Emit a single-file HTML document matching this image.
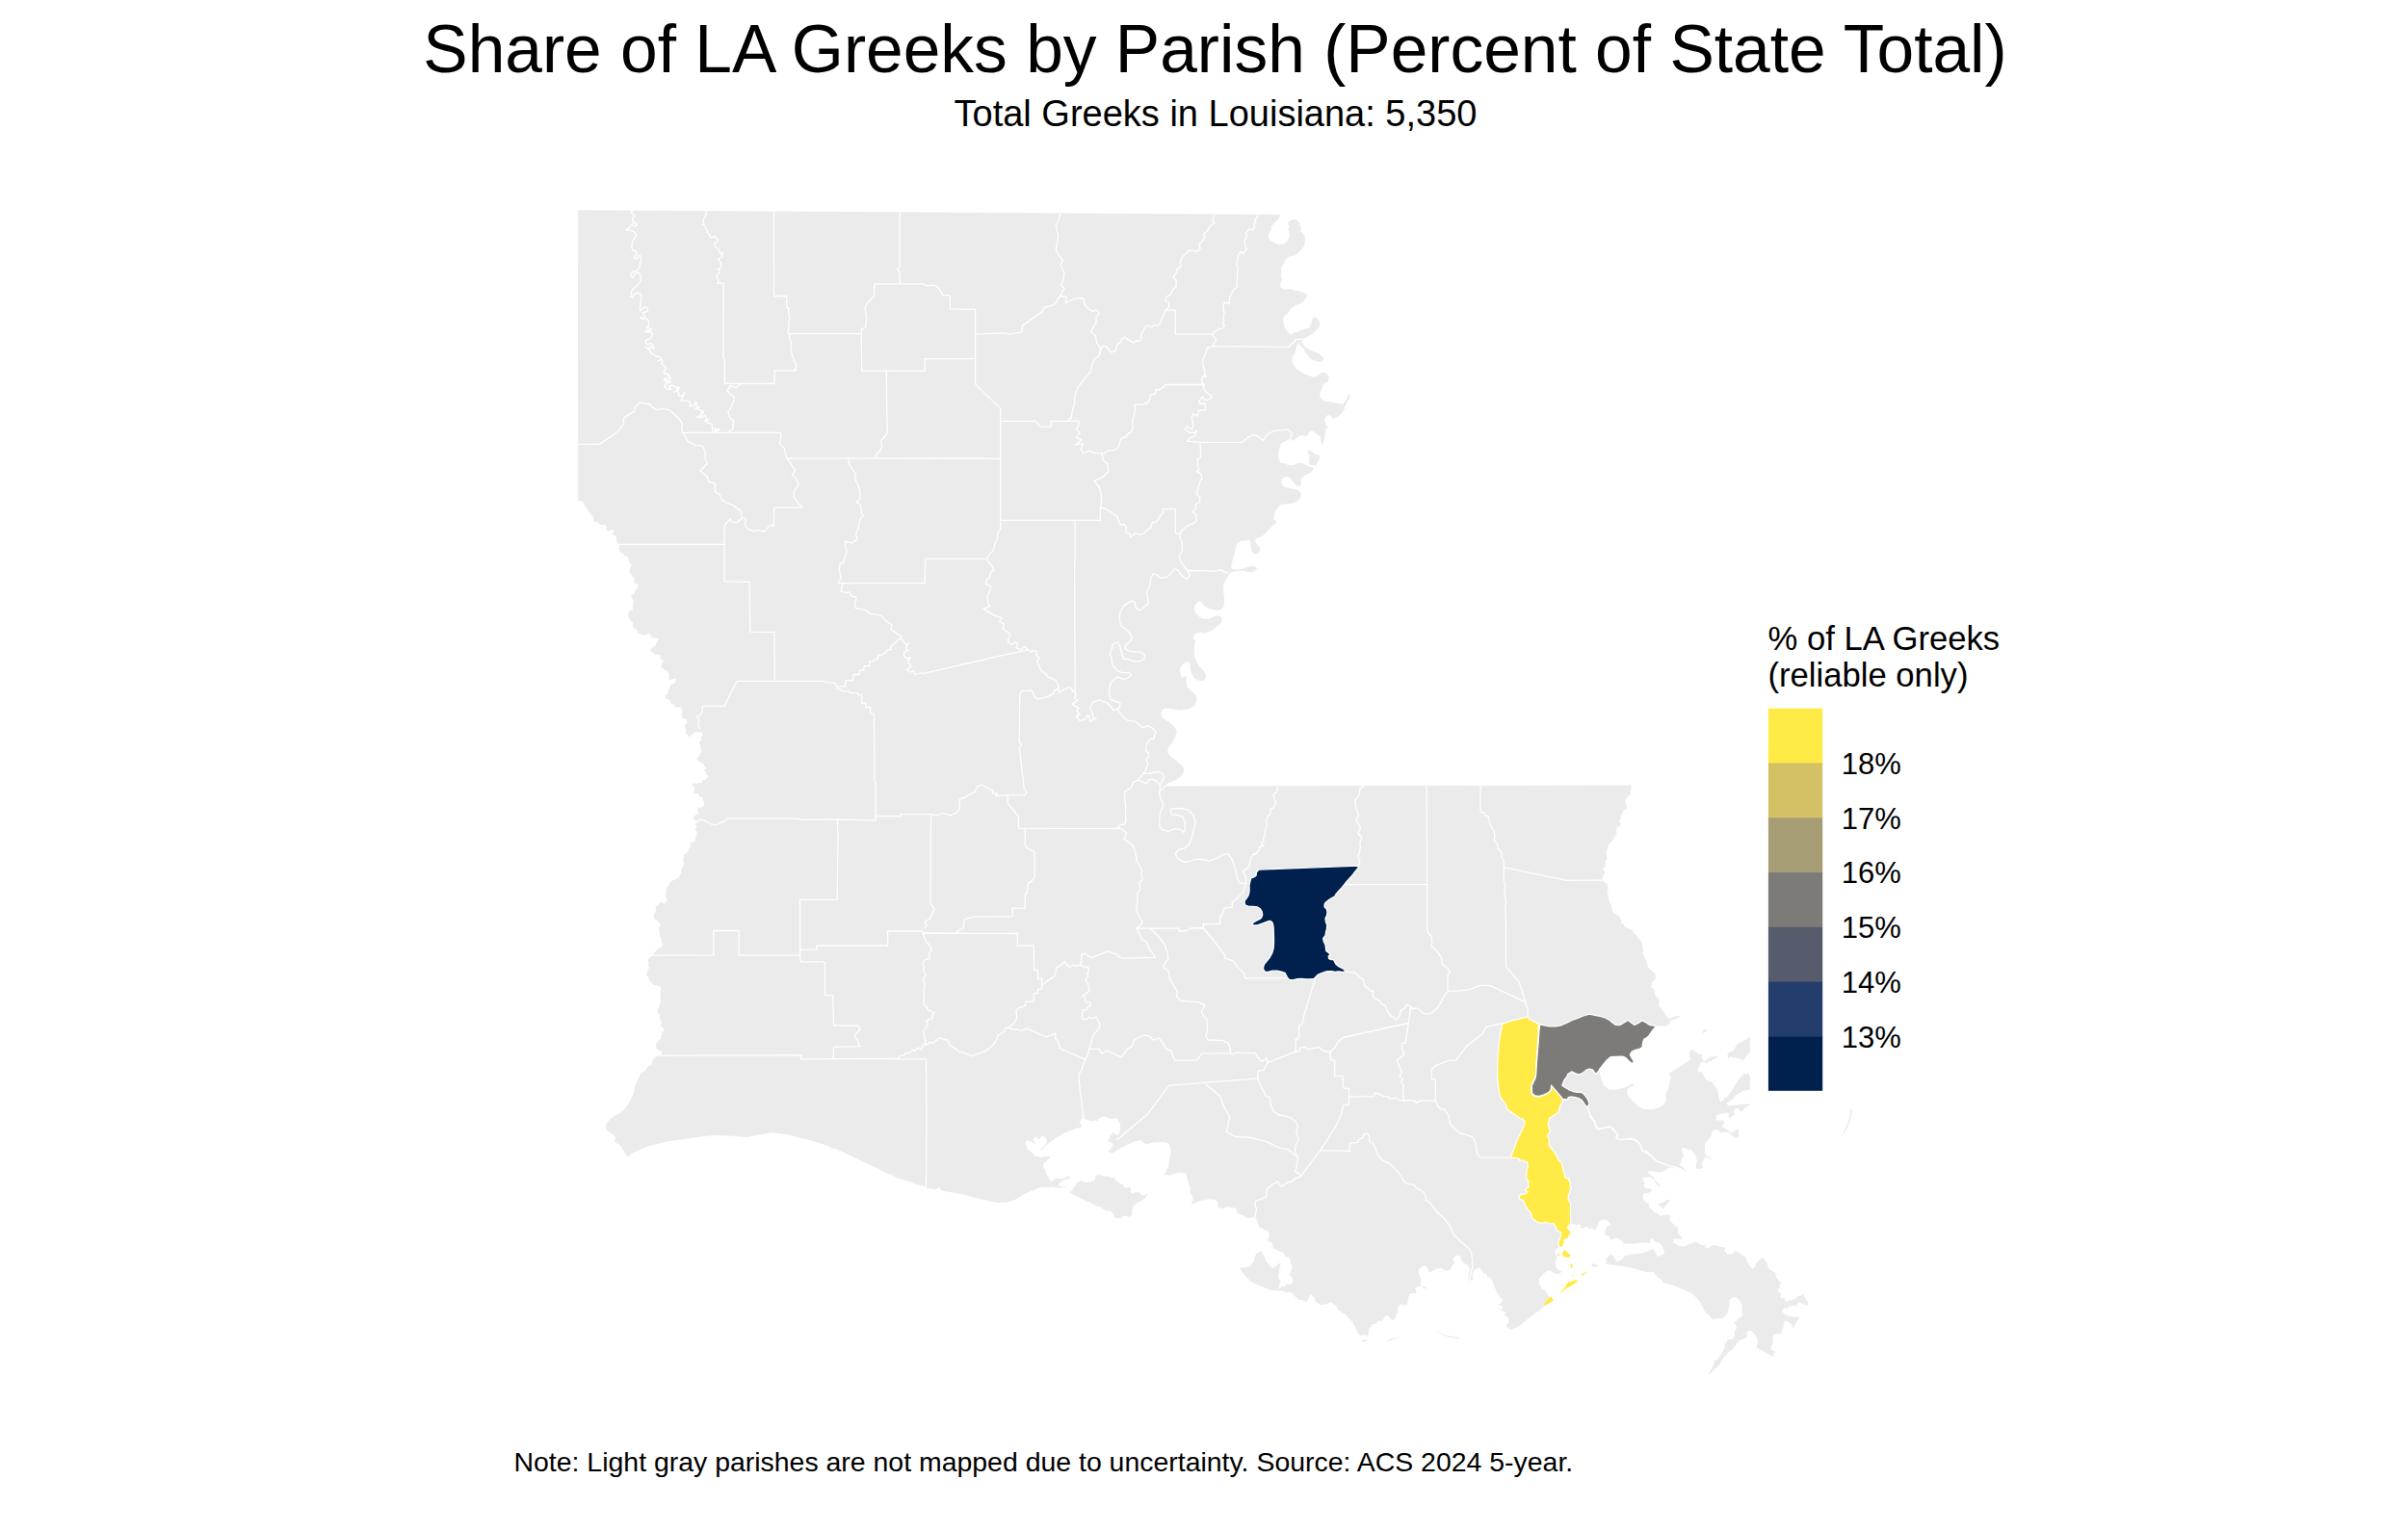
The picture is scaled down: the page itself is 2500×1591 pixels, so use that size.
<!DOCTYPE html>
<html lang="en"><head><meta charset="utf-8"><title>Share of LA Greeks by Parish</title>
<style>html,body{margin:0;padding:0;background:#fff}svg{display:block}</style></head>
<body><svg width="2500" height="1591" viewBox="0 0 2500 1591">
<rect width="2500" height="1591" fill="#fff"/>
<path d="M599.9 218.2L1328.9 222.8L1328.4 225.6L1326.8 228.1L1323.9 230.6L1321.8 233.1L1319.9 235.6L1320.3 238.1L1318.1 241.2L1316.8 244.3L1317.4 247.4L1319.9 250.5L1323.7 252.6L1328 253.9L1332.4 253.4L1335.5 251.1L1338 248L1338.9 244.9L1338.4 241.2L1337.4 238.1L1338.9 234.9L1337.1 232.4L1338 230L1340.5 228.5L1344.2 227.5L1346.7 228.5L1348.6 230.9L1350.1 234.3L1350.8 236.8L1349.9 239.7L1351.7 241.8L1353.6 243.7L1354.8 246.8L1354.6 249.9L1354.8 253L1353.6 256.1L1351.1 259.3L1348 262.4L1344.9 264.9L1341.7 265.9L1339.3 266.1L1336.8 267.4L1334.3 269.9L1333 273.6L1331.1 276.1L1330.1 279.8L1330.1 283.6L1329.7 287.3L1331.1 289.2L1329.9 292.3L1329 296L1329.9 298.8L1332.4 300.4L1336.1 300.4L1339.9 300.1L1343.6 301.4L1348.6 302.3L1353.6 303.9L1357.3 305.8L1356.3 309.1L1354.2 312.2L1351.1 314.5L1347.4 316L1343.6 317.9L1340.5 320.3L1338.6 322.8L1336.8 326L1333.6 327.8L1332.1 330.9L1332.4 335.3L1333.6 339.7L1335.5 343.2L1338 345.7L1340.5 347.2L1343 345.7L1346.1 344.9L1351.1 342.8L1356.1 341.2L1359.6 340.7L1360.4 337.8L1361.7 334.7L1362.3 331.6L1364.8 329.1L1367.3 330.3L1369.8 333.4L1370.4 337.2L1369.2 340.3L1366.1 343.2L1362.9 346.5L1358.6 349L1354.2 351.5L1351.1 354.4L1351.7 356.5L1354.8 360.2L1359.2 363.1L1364.8 365.2L1369.8 367.7L1373.3 370.8L1374.2 373.3L1372.3 375.8L1369.2 375.8L1364.8 374.8L1361.1 373.1L1358 369.6L1355.5 365.9L1353.3 362.1L1350.8 359.4L1348.4 356.9L1346.7 357.8L1346.1 359.6L1345.5 363.4L1343.9 367.4L1341.7 370.8L1341.4 374.6L1342.4 378.3L1344.9 381.4L1348 384.6L1352.3 387.3L1357.3 389.6L1361.7 391L1364.8 391.8L1368.6 389.6L1372.3 386.8L1376 387.3L1378.8 389.8L1379.8 393L1378.8 395.8L1376 398L1373.3 399.3L1372.5 401L1372.8 403.1L1370.9 406.8L1370 411.2L1371.6 414.3L1375.3 416.2L1382.2 417.7L1388.4 418.4L1394 419.7L1397.1 415.9L1399 412.5L1399.6 410.2L1402.1 409.7L1400.9 413.7L1398.6 418.1L1396.5 421.8L1395.9 424.9L1393.4 428.7L1389.7 432.2L1384.4 435.1L1382.2 432.4L1380.3 431.2L1377.4 431.4L1375.9 433.7L1375.3 437.4L1376.6 441.1L1378.7 443.9L1376.6 446.1L1375.7 449.9L1375.3 456.1L1373.7 459.8L1372.2 462.3L1371.2 458.6L1370.9 453.6L1368.2 451.7L1364.7 448.6L1361.6 447.4L1359.1 448.4L1357.9 451.1L1356.6 453.6L1354.1 452.4L1351 452.1L1347.9 453.4L1345.4 455.5L1342.9 458L1341.3 456.7L1339.8 456.1L1336 457.3L1332.3 459.2L1329.8 461.1L1328.6 464.8L1327.3 469.8L1326.7 474.2L1327.9 477.9L1329.8 480.8L1333.5 481L1337.3 482.9L1343.5 483.2L1346 481.3L1349.8 480.4L1352.9 481L1356 482.9L1359.7 484.5L1363.5 485.8L1362.8 488.5L1361 490.4L1356 493.3L1350.7 496.2L1350.5 499.7L1351 504.7L1346.6 504.5L1344.1 502.5L1342.3 500.4L1340.4 497.5L1338.3 495.4L1335.4 494.8L1332.9 495.7L1330.8 498.2L1330 501L1331.3 503.7L1334.2 506L1339.8 507.2L1344.8 508.2L1348.5 509.5L1350 511.6L1351 515.3L1348.5 518.4L1346 520.9L1342.3 522.4L1337.3 523.2L1330.4 524.1L1327.3 526.5L1324.8 529.4L1323.3 532.2L1322.9 535.9L1322.1 539.4L1324.6 540.3L1324.8 543.4L1321.1 546.1L1318 549.6L1314.8 552.7L1311.7 556.1L1308.6 557.7L1304.2 559.3L1303 561.5L1303.9 564L1306.1 566.4L1308.6 568.9L1308 572.1L1306.1 574.6L1303.9 575.5L1301.1 574.6L1299.6 572.1L1298.6 568.3L1298.4 564L1297.4 560.6L1293.6 561.5L1288.7 561.8L1285.5 563.1L1283.7 565.8L1281.8 573.3L1279.9 580.8L1278.9 586L1278.7 585.6L1278.2 590L1281.6 591.8L1288.4 591L1295.3 589L1299.7 587.5L1303.4 588.5L1305.3 590.2L1303.4 592.5L1300.9 594.3L1297.2 594.3L1290.9 592.8L1284.7 593.1L1279.1 594L1276.6 595.6L1274.7 598.7L1272.8 601.8L1270.7 605.6L1270 609.9L1270.3 616.2L1271 622.4L1271 627.4L1270 631.1L1267.2 633L1263.5 634.2L1258.5 633L1253.5 631.1L1250 628.9L1247.9 626.1L1246 623.9L1243.3 625.5L1240.8 628.6L1239.8 632.4L1241 635.9L1243.8 639.2L1246.7 641.7L1249.8 642.7L1254.8 642.6L1258.5 641.3L1262.2 639.6L1266 639.6L1268.7 641.3L1268.2 645.5L1266.6 648L1262.9 651.1L1259.1 654.2L1255.4 656.1L1250.4 657.9L1247.3 657.1L1241.7 657.6L1239.8 659.2L1238.6 661.7L1239.6 664.2L1241 665.4L1240 669.8L1239.8 676L1240.4 682.2L1242.3 687.2L1244.2 691L1247.3 694.1L1249.8 697L1251.6 699.7L1251.6 704.1L1250.4 706.6L1247.3 706.9L1243.5 706.6L1240.4 704.4L1237.9 700.9L1236.3 696.6L1235.4 692.2L1235.8 689.7L1234.2 687.2L1232.3 687L1229.8 688.7L1226.7 691L1225.1 694.1L1224.6 697L1225.8 700L1227.3 704.1L1229.8 702.2L1232.1 702.8L1231.3 707.2L1232.1 713.2L1234.8 715.7L1236.7 717.8L1239.8 720.3L1242 722.4L1242.3 727.1L1241.3 730.9L1239.8 733.6L1234.8 735.9L1230.4 737.1L1226.1 737.7L1221.1 736.9L1214.9 735.9L1209.9 735.6L1207.1 737.1L1205.1 740.2L1205.9 744L1208 746.8L1211.7 748.6L1215.5 751.4L1219.2 754.6L1221.1 757.7L1221.7 760.8L1220.5 764.5L1218.6 768.3L1216.7 771L1219.1 768.1L1216 772.5L1213.2 776L1212.2 779.3L1213.2 783.1L1216.6 786.2L1221.6 790.2L1225.9 793.9L1228.4 796.8L1229.1 800.5L1227.2 804.9L1223.4 808.6L1218.5 811.1L1213.5 813L1210 815.1L1209.5 816.4L1689.7 815.6L1692.8 815L1693.7 818.7L1692.2 822.4L1693.4 824.7L1690.3 826.8L1687.2 831.2L1687.2 833.7L1688.4 836.2L1689.1 839.9L1685.9 841.1L1684.7 844.3L1682.8 846.8L1682.8 849.9L1681.2 852.4L1682.8 855.5L1681.6 858L1678.5 859.2L1678.2 863.6L1678.5 867.3L1676 868.6L1674.7 872.3L1672.2 874.8L1670.3 876.7L1669.7 879.8L1668.5 882.3L1667.5 886L1668.2 889.8L1668.5 892.3L1666.6 894.8L1667 897.9L1666 900.4L1664.1 902.9L1666.6 905.4L1664.7 909.7L1663.2 913.7L1666 916.6L1668.5 917.8L1669.7 922.8L1668.5 927.2L1669.7 930.9L1670.7 935.9L1672.2 938.4L1673.7 943.4L1674.7 948.4L1680.3 951.1L1682.8 954.6L1683.4 958.6L1685.9 960.2L1687.2 962.7L1690.9 964.6L1694.7 966.1L1696.5 969.6L1699 971.4L1700.9 974.6L1704 977.1L1704.9 980.8L1705.9 985.8L1705.3 991L1706 983.7L1705.4 989.4L1707.3 993.7L1709.2 998.7L1711 1004.3L1714.8 1008.1L1718.5 1011.2L1719.1 1016.2L1716 1019.3L1714.1 1024.3L1717.3 1028L1718.5 1033.6L1722.9 1038.6L1722.2 1044.8L1726.6 1049.2L1729.7 1054.8L1733.5 1057.9L1739.7 1055.4L1743.4 1054.6L1743.7 1056.3L1739.7 1057.9L1734.7 1059.8L1732.8 1062.9L1729.7 1066L1724.7 1065.2L1719.4 1065.8L1719.3 1065.9L1716.9 1068.7L1714.4 1072L1711.9 1075.7L1709.5 1077.8L1707 1079L1705.7 1082.4L1704.9 1087.8L1702 1089.4L1697 1090.7L1694.1 1092.3L1692.4 1095.2L1693.7 1098.1L1696.2 1101.9L1695.7 1103.8L1693.7 1104.1L1691.2 1101.9L1687.9 1098.6L1684.5 1097.1L1677.9 1097.3L1672.1 1097.7L1667.9 1101.5L1663.8 1106.4L1660.9 1110.2L1660 1113.1L1660.6 1113.1L1662.4 1119.9L1664.9 1126.8L1669.9 1130.9L1676.2 1132.1L1683.6 1130.5L1691.1 1127.4L1694.9 1125.5L1696.7 1126.8L1692.4 1128.7L1689.3 1131.8L1689.6 1136.8L1692.4 1141.1L1696.7 1144.9L1701.1 1149.2L1707.3 1151.7L1714.8 1152.3L1722.3 1150.5L1727.9 1146.7L1729.8 1142.4L1729.5 1136.1L1732.3 1129.9L1733.5 1123.7L1734.8 1119.3L1732.9 1114.3L1737 1112.4L1740.9 1109.7L1746.4 1106.2L1751.9 1102.6L1755.4 1100.3L1754.6 1096.4L1753.8 1092.5L1755.8 1089.7L1759.7 1092.1L1763.6 1094.4L1767.9 1095.6L1766.4 1097.9L1768.3 1100.7L1770.7 1102.3L1771.8 1100.3L1776.1 1097.6L1782.4 1096.4L1782.8 1098.3L1784 1099.5L1788.7 1097.9L1793.4 1099.5L1793.4 1094L1799.6 1090.9L1803.5 1084.6L1810.6 1080.7L1816.9 1076.8L1823.1 1076.8L1823.1 1131.6L1816.9 1131.6L1809.6 1133L1802.1 1137.4L1798.4 1141.7L1792.7 1145.5L1794 1148.6L1802.1 1147.6L1810.8 1146.7L1816.8 1146.4L1816.8 1147.4L1812.1 1149.9L1809 1154.2L1806.5 1153.6L1804.6 1151.1L1801.5 1151.1L1799.6 1154.8L1800.8 1158L1796.5 1159.8L1797.7 1162.3L1794.6 1159.8L1795.2 1156.7L1792.1 1155.5L1781.5 1158.3L1782.1 1163.6L1788.4 1163.6L1790.9 1166.1L1788.4 1167.9L1788.4 1171L1792.7 1172.3L1795.9 1176L1799.6 1175.4L1804.6 1171.7L1804.8 1181L1801.5 1181.6L1798.4 1179.2L1794.6 1176L1789.6 1175.8L1785.9 1176L1783.4 1173.5L1779 1173.5L1777.2 1176L1776.5 1179.8L1772.2 1184.8L1769.7 1188.5L1770.3 1192.2L1769.7 1197.2L1774.7 1202.2L1779.7 1204.7L1775.9 1204.1L1770.9 1201L1768.4 1204.7L1766.6 1208.5L1767.8 1212.8L1764.7 1214.1L1760.9 1213.4L1760.7 1209.1L1761.9 1206.6L1760.9 1201L1757.2 1195.4L1755.3 1193.5L1752.2 1193.5L1749.7 1192.2L1746 1192.2L1746.6 1197.2L1748.5 1201L1746 1202.8L1745.4 1207.2L1743.7 1209.1L1746 1211.6L1749.1 1214.1L1750.3 1217.2L1746 1214.1L1742.2 1214.1L1738.5 1212.2L1732.3 1212.8L1728.5 1215.9L1723.5 1217.8L1719.8 1217.2L1714.8 1216.2L1710.4 1216.6L1712.3 1219.1L1716.1 1221.5L1717.9 1225.3L1721 1228.4L1725.4 1233.4L1719.8 1230.3L1717.3 1225.9L1714.8 1222.8L1709.8 1222.2L1704.8 1223.4L1705.5 1225.9L1708 1228.4L1706.1 1231.5L1709.2 1234L1714.2 1234.6L1714.8 1237.1L1711.1 1239L1706.7 1239.6L1705.5 1242.1L1706.7 1247.1L1709.8 1249.6L1711.9 1250L1712.2 1253.1L1714.7 1255.6L1717.2 1259L1721.5 1260.6L1724.6 1263.1L1727.8 1261.8L1732.1 1261.5L1734.6 1262.5L1733.4 1266.8L1734.6 1268.7L1737.4 1271.2L1739 1273.4L1742.3 1274.3L1741.8 1277.4L1742.7 1281.2L1745.2 1283.9L1746.5 1287.2L1742.1 1286.8L1738.4 1286.2L1736.5 1290.5L1739.6 1291.4L1742.1 1293.4L1749 1294.6L1752.7 1292.6L1757.1 1290.9L1759.6 1289.3L1760.8 1289.9L1766.4 1293L1770.8 1293L1770.1 1294.9L1772 1296.4L1775.1 1295.5L1776.4 1293.6L1780.7 1293L1786.4 1294.9L1792 1295.5L1790.1 1298L1790.7 1299.3L1793.5 1302.4L1797.6 1302.4L1800.7 1300.5L1801.3 1298.6L1809.4 1303.6L1812.5 1306.1L1814.4 1312.1L1819.4 1318L1822.5 1314.8L1822.5 1313L1825.6 1309.6L1828.8 1306.1L1831.9 1307.4L1834.4 1311.7L1836.2 1317.3L1839.4 1320.1L1843.3 1321.7L1844.3 1327.3L1848.7 1331.7L1847.8 1334.2L1848.1 1337.3L1845.6 1338.8L1846.2 1341.6L1849.3 1343.5L1848.1 1347.9L1852.4 1348.5L1854.3 1352.2L1857.4 1350.7L1860.5 1349.8L1864.9 1348.5L1865.5 1346.3L1869.3 1346L1871.8 1344.1L1874.3 1347.9L1877.4 1352.9L1875.8 1356.6L1874.9 1355.4L1871.8 1354.1L1866.8 1352.2L1865.5 1356L1857.4 1356.6L1855.6 1359.1L1853.1 1358.2L1850.3 1360.3L1851.2 1363.5L1854.3 1366.2L1860.5 1367.2L1868 1367.8L1864.3 1374.7L1861.2 1379.9L1859.9 1375.3L1856.2 1372.4L1853.7 1371.9L1851.6 1374.1L1851.8 1378.4L1850.3 1380.3L1849.6 1384.7L1845.6 1385.3L1841.6 1385.9L1840.3 1389.7L1840.6 1395.3L1838.4 1399.6L1840 1402.7L1842.8 1403.4L1840.8 1406.5L1841.6 1409.6L1840 1408.4L1835.6 1405.9L1829.4 1402.7L1823.4 1399.6L1825 1393.4L1823.8 1388.4L1821.3 1385.3L1818.4 1382.4L1815.7 1381.9L1813.4 1384L1813.8 1388.4L1810.7 1390.3L1806.3 1391.5L1801.9 1397.1L1798.2 1401.5L1794.5 1404.6L1790.7 1408.4L1787 1413.3L1785.7 1417.1L1783.2 1419L1779.5 1422.7L1775.8 1426.4L1773.5 1427.3L1775.8 1423.3L1777.6 1420.8L1778.9 1416.5L1780.1 1412.7L1783.2 1411.5L1786.4 1407.1L1788.9 1402.7L1790.7 1398.4L1790.5 1395.3L1792.6 1394.6L1793.2 1391.1L1798.2 1390.9L1800.1 1388.4L1801.3 1385.3L1800.4 1382.2L1802.6 1380.9L1802.6 1375.9L1800.4 1373.4L1803.2 1371.6L1805.1 1368.5L1808.8 1367L1809.2 1364.1L1808.2 1360.3L1809.2 1355.7L1806.9 1352.2L1804.4 1348.5L1800.7 1347L1797.6 1347.9L1795.1 1350.7L1795.7 1353.5L1795.1 1357.2L1793.8 1363.5L1789.5 1368.5L1782 1369.5L1777.6 1370L1773.9 1366L1770.8 1363.5L1767 1356L1764.5 1351.6L1760.8 1347.3L1757.1 1343.5L1749.6 1340L1742.1 1336.7L1735.9 1334.5L1726.1 1331.7L1725.3 1329.2L1721.5 1326.7L1718.4 1323.6L1716.5 1320.8L1708.4 1321.1L1696 1317.3L1683.5 1315.1L1671.6 1313.6L1666 1312.3L1659.8 1314.8L1649.8 1319.8L1637.4 1329.8L1617.4 1343.5L1613 1351L1603.7 1356L1596.2 1362.2L1587.5 1368.5L1580 1373.4L1590 1367.2L1582.4 1372.8L1578 1376.5L1573 1379L1568.7 1380.9L1564.3 1378.4L1563.7 1375.9L1566.2 1374L1566.6 1369.7L1564.3 1366.9L1560.6 1365.9L1563.7 1364L1562.4 1362.2L1556.8 1360.3L1560 1359.1L1560 1356.6L1555.6 1354.7L1559.3 1352.8L1560 1348.5L1557.5 1347.8L1555 1344.1L1553.1 1339.7L1551.2 1336L1550 1331.6L1547.9 1327L1544.4 1326L1542.9 1322.3L1540 1322.9L1538.8 1319.2L1535.9 1316.3L1533.1 1317.9L1530 1319.2L1528.8 1324.8L1530 1328.5L1526.3 1329.8L1524.2 1334.7L1524.4 1327.3L1525 1323.5L1525.9 1318.5L1524.4 1314.8L1520 1311.7L1517.2 1308.6L1516.3 1304.8L1513.2 1303.6L1509.5 1305.4L1508.2 1307.9L1510.4 1311.7L1507.6 1314.8L1506.3 1317.9L1503.2 1319.8L1499.5 1319.2L1497 1316.7L1494.5 1317.3L1491.4 1317L1489.5 1319.2L1487 1319.8L1484.5 1322L1483.3 1319.2L1481.4 1316L1478.9 1314.2L1476.4 1315.4L1473.3 1317.9L1472.7 1322.9L1474.5 1326L1475.5 1328.5L1474.5 1334.7L1477 1336L1481.8 1337.2L1479.5 1338.5L1474.5 1336L1470.8 1336.6L1468.9 1337.9L1470.8 1340.7L1469.6 1343.2L1463.9 1343.5L1462.3 1347.2L1461.8 1350.3L1460.6 1355.7L1457.7 1355.3L1453.3 1355.3L1450.8 1358.4L1451.5 1360.9L1449.6 1365.9L1448.4 1369.7L1445.2 1371.5L1443.4 1369L1441.1 1366.2L1439 1366.2L1437.1 1368.4L1435.3 1371.5L1430.9 1372.1L1427.8 1374.9L1424.7 1375.3L1424 1377.8L1421.2 1379.6L1420.9 1384L1420.3 1387.7L1416.6 1386.5L1412.8 1386.9L1410.3 1385.2L1408.5 1381.5L1406.6 1377.1L1404.5 1374.6L1404.7 1372.1L1402.2 1371.5L1401.6 1369.7L1398.2 1367.2L1397.5 1364.7L1394.7 1364L1391.6 1362.2L1388.5 1359.1L1387.5 1356.6L1384.8 1354.4L1382 1351.9L1378.5 1353.7L1374.8 1354.7L1370.4 1354.7L1367.9 1353.2L1365.4 1351.6L1365.1 1347.8L1363.6 1347L1361.3 1344.5L1359.8 1345.3L1358.6 1348.5L1356.1 1351.9L1353.6 1350.7L1351.1 1350L1348 1350L1345.5 1347.2L1342.4 1344.1L1338.9 1341.6L1336.8 1342.2L1331.1 1340.7L1323.7 1340.3L1317.4 1339.5L1311.2 1336.6L1305 1334.1L1298.7 1331L1293.7 1326L1290 1321.6L1286.9 1316.8L1293.7 1316.3L1297.5 1315.8L1299 1312.9L1301.8 1310.4L1302.5 1306.1L1304.3 1301.7L1307.5 1300.4L1310 1298.6L1321.2 1292.3L1319.3 1290.1L1316.2 1289.2L1316.8 1286.1L1318.1 1282.4L1316.4 1278L1313.7 1277.6L1310.6 1276.1L1307.2 1274.6L1306.2 1270.5L1305 1266.8L1302.5 1264.7L1300.6 1263.9L1301.2 1264.1L1296.9 1264.9L1293.1 1264.4L1290.6 1261.9L1287.5 1261.6L1284.6 1260.3L1284.4 1257.2L1281.9 1254.1L1278.8 1254.7L1276.3 1253.5L1273.2 1253.2L1270.7 1255L1266.3 1254.5L1264.2 1252.8L1264.4 1249.7L1263.2 1247L1259.5 1245.6L1254.5 1245.4L1249.5 1246.2L1244.5 1247.5L1240.7 1249.7L1236.4 1250.3L1238.3 1247.2L1238.9 1244.1L1237 1241L1235.5 1238.5L1236 1233.5L1234.3 1229.8L1233 1226L1232 1221L1230.8 1218.6L1227 1217.9L1223.3 1217.9L1218.3 1219.6L1213.3 1220.4L1208.3 1219.2L1210.2 1217.3L1211.4 1214.8L1213.1 1212.3L1213.9 1207.3L1214.3 1202.3L1215.2 1198.6L1215.8 1194.9L1215.2 1191.1L1213.9 1188L1211.4 1186.8L1207.1 1186.1L1200.8 1186.1L1194.6 1187.1L1190.2 1188.6L1187.8 1186.8L1184.6 1184.6L1179.7 1185.1L1174.7 1186.8L1169.7 1189.3L1164.7 1191.7L1160.3 1193.9L1157.8 1195.9L1154.7 1197.6L1152.2 1196.4L1149.7 1195.5L1153.5 1193L1155.3 1189.9L1155.3 1187.4L1154.1 1186.4L1151 1185.5L1149.5 1184.3L1151.6 1183L1152.2 1179.9L1154.7 1177.4L1156 1175.5L1159.1 1178.7L1162.2 1176.8L1163.2 1171.8L1162.8 1166.8L1161.2 1164.3L1160.9 1161.4L1156.6 1161.4L1152.8 1162.4L1149.7 1160.6L1146 1159.3L1141.6 1160.9L1139.8 1163.7L1135.8 1163.4L1133.5 1164.7L1130.4 1163.1L1127.3 1162.4L1124.8 1160L1122.3 1162.4L1121 1164.9L1122.3 1167.4L1123.3 1169.9L1121 1171.2L1117.3 1171.8L1113.6 1173.4L1108.6 1174.9L1102.3 1178L1096.1 1181.8L1091.1 1185.5L1087.4 1188.6L1083 1193L1080.5 1194.9L1080.5 1193.4L1083.6 1191.1L1086.1 1188L1087.1 1184.3L1084.9 1180.9L1082.4 1179.7L1079.9 1180.9L1079.7 1183.6L1078 1182.4L1075.5 1180.9L1073.4 1181.8L1072.7 1184.3L1074.9 1187.1L1074.3 1188L1069.9 1185.5L1066.2 1183.9L1064.3 1186.8L1065.6 1189.9L1066.8 1193L1069.3 1194.9L1072.4 1198L1074.9 1200.8L1078 1201.1L1080.5 1202.1L1082.4 1201.1L1089.3 1201.1L1091.4 1201.3L1086.8 1205.5L1083 1208.8L1083 1211.7L1084.9 1214.8L1086.1 1218.6L1088.6 1222.9L1090.5 1226.3L1092.4 1227L1093.6 1225.4L1096.7 1223.5L1101.1 1224.5L1106.1 1223.3L1108.6 1221L1109.8 1221.7L1112.1 1224.2L1108.6 1224.2L1105.5 1225L1101.7 1227.3L1099.2 1229.8L1099.9 1231.6L1103.6 1232.5L1106.7 1232.5L1106.1 1233.3L1102.3 1233.5L1098.6 1233.8L1092.4 1232.6L1086.1 1232.9L1080.5 1233.1L1073.7 1235.4L1066.2 1238.8L1060 1242.2L1053.1 1246.6L1046.2 1248.5L1040 1248.7L1035.1 1249L1023.8 1246.5L1011.4 1243.8L998.9 1240.3L983.9 1237.8L977 1236.3L975.2 1232.8L971 1235.3L961.5 1233.8L959 1231.3L954 1230.8L950.3 1229.6L941.5 1226.3L931.6 1223.4L925.3 1219.6L921.6 1218.9L911.6 1213.4L900 1208.6L886.8 1202.1L874.3 1195.9L866.8 1192.8L863.1 1192.4L861.2 1190.7L854.4 1188.2L844.4 1185.3L830.7 1181.6L818.2 1178.2L802 1176.2L787 1178.5L775.8 1180.9L759.6 1179.7L743.4 1179.1L730.9 1180L712.2 1182.8L693.5 1185.3L679.8 1188.4L669.8 1191.5L662.3 1194.7L656.1 1197.8L651.7 1201.8L646.8 1194L643.6 1188.7L639.9 1187.2L638 1185.3L638.9 1181.6L636.8 1178.5L633.4 1176.2L629.9 1173.7L628.9 1169.7L630.5 1165.4L634.3 1161.6L638.7 1158.5L644.3 1155.4L648 1152.3L651.7 1147.3L655.5 1141L658 1134.8L659.2 1128L661.1 1123L663.6 1118.6L664.2 1115.9L666.1 1113.6L669.2 1113L671.1 1109.3L673.6 1107.1L676.1 1105.9L677.3 1103.6L677.9 1100.5L680.4 1098L682.3 1096.2L684.8 1095.5L687 1095.2L687.3 1093L686 1091.2L683.8 1090.5L681.7 1089.3L681 1086.8L681.3 1083.7L682.9 1081.8L684.2 1079.7L686.7 1078.7L686 1076.8L687 1074.3L686.7 1071.8L688.5 1071.8L690 1069.7L688.5 1068.5L687.3 1066L685.4 1065.6L686.7 1062.5L686.3 1060L686.7 1062.7L686 1060.2L684.8 1057L685.8 1054.6L684.2 1053.3L682.9 1051.4L682.5 1047.7L684.2 1046.4L684.5 1043.3L686.3 1040.8L685.4 1037.1L686.3 1034.6L685 1032.7L685.8 1029L686 1025.2L684.2 1024.6L682.3 1023.4L678.6 1022.8L676.1 1020.3L674.2 1017.8L672.9 1014.7L671.3 1012.8L672.1 1010.3L672.3 1007.2L674.2 1004.9L672.9 1002.8L673.3 999.7L672.3 996.9L674.2 994.7L677.1 992.8L677.9 991L679.8 988.7L682.3 986.6L683.5 984.5L685.8 984.7L687 982.9L688.3 980.7L686.3 977.9L687.3 975.7L686 973.5L684.5 971L685 967.9L683.8 965.4L684.2 962.9L685.8 961L684.8 958.8L682.3 956L679.8 954.8L678.6 952.3L678.8 949.2L680.4 947.3L681 944.8L680.8 941.1L682.9 940.8L683.8 938.6L686.3 937.3L688.5 936.3L688.3 938.3L690 938.6L692.3 936.1L692.5 934.2L691 930.5L692 928L691.6 925.5L692.3 921.8L694.8 918.6L695.4 916.4L698.5 914.3L702 913L704.5 911.2L705.7 908.7L707.5 906.2L707 904.7L708.2 901.2L710 898.1L710 895L708.5 892.5L710.7 890.6L709.7 888.1L711.6 886.5L714.1 885.6L714.5 881.9L716 880.6L717.2 877.5L716.6 875L716.9 878.3L717.2 875.2L719.7 874.5L722.2 872.7L721.9 870.2L723.2 867.1L724 863.9L721.5 861.8L723.2 859L722.4 856.5L723.4 851.5L722.2 852.1L719.7 850.2L719.9 848.1L722.2 846.5L725.7 845.2L723.7 842.4L724 840.9L725.3 838.4L726.2 839L728.4 838.6L730.6 837.1L731.1 834L729.9 831.5L729.7 827.8L726.5 827.8L725.7 825.3L722.8 824L719.7 823.7L720.7 820.9L721.5 817.8L718.4 815.9L720.3 812.4L723.4 814.7L725.3 812.8L727.8 813.4L729.4 810.3L731.5 810.3L735.6 806.2L733.1 804.1L732.8 801.6L730.3 799.7L732.1 799.1L733.1 797L730.9 795.4L730.6 793.2L727.2 791.6L724.9 791L725.3 788.5L724 788.8L722.4 787.5L725.3 786.6L725.9 784.1L727.8 782.3L728.2 778.5L727.2 776L725.9 770.4L728.7 767.9L727.2 765.4L729 764.8L729.9 762.3L728.4 760.4L725.3 760.4L723.2 759.8L719.7 761.7L715.3 765.4L712.2 761.7L712.2 757.3L711.2 754.8L711.6 752.3L713.7 750.5L712.8 746.7L710.3 747.1L708.5 745.5L707.8 742.4L708.7 739.3L707.8 735.9L706 733.9L701.6 734.9L700.7 733L699.5 731.1L697 730.9L695.7 727.4L693.5 726.2L690.4 724.7L691.2 722.2L693.7 719.7L693.5 717.4L695.4 714.3L695.7 711.4L700.7 709.3L702.2 704.7L698.5 705.6L694.5 706.2L694.7 701.2L693.5 697.5L691.2 696.9L688.5 694L686 693.1L686.6 690L687.3 689.5L689.1 685.2L685 684.3L685.8 680.2L682.9 679.6L680.8 680.2L677.9 678.1L675 675.8L676.7 672.7L680.4 670.6L681.6 667.1L684.1 664.3L683.5 662.7L676.7 662.1L675.4 658.6L672.3 658.1L671 659.4L665.4 659L662.3 656.9L661.3 654.6L657.3 651.5L656.7 649.6L657.1 646.5L654.2 644L652.3 640.9L652.1 636.5L654.2 634L657.3 633.7L656.7 630.9L657.3 628.4L657.3 622.8L655.5 619.7L655.5 617.5L658.3 617.2L659.2 614.1L661.7 610.3L662.9 606.6L660.4 606.6L658.3 606L658.3 603.5L658.3 599.8L656.1 598.5L654.8 596L653 592.9L654.8 589.8L655.8 586.3L653 583.5L652.6 580.4L651.1 577.9L648.4 577.6L646.7 574.8L643.4 572.9L642.4 569.8L643 566.1L640.9 564.2L639.9 561.1L640.5 558.6L638 556.1L635.5 555.5L637.4 552.4L636.8 550.1L634.3 550.5L630.9 551.4L628.9 551.1L630.5 547.4L627.4 545.1L622.2 544.9L620.5 541.8L618.1 542.4L616.2 539.9L615.6 536.8L613.4 534.3L611.2 531.2L609.3 527.7L606.8 524.9L606.2 522.2L603.1 520L600.2 520.6Z" fill="#EBEBEB" stroke="none"/>
<path d="M1308.7 1298L1310.6 1301.7L1313.1 1305.4L1314.3 1309.8L1316.2 1312.3L1319.3 1315.4L1321.2 1317.3L1324.9 1314.5L1328 1312L1329.7 1312.5L1328.7 1316L1328 1321.6L1326.8 1326.6L1329.7 1330.7L1327.4 1336L1328.4 1338.2L1330.5 1336L1334.3 1336L1335.5 1333.5L1339.9 1334.1L1342.4 1331.6L1341.7 1327.3L1338.6 1323.3L1340.5 1319.8L1341.7 1316L1339.9 1311.7L1339.9 1308.6L1337.4 1305.4L1333.9 1304.8L1333.9 1302.9L1331.8 1300.8L1328.7 1299.6L1325.5 1298L1321.8 1296.3L1321.2 1292.3L1314.9 1289.9L1308.7 1292.3Z" fill="#fff" stroke="none"/>
<path d="M1631.1 1270.6L1633.6 1271.2L1636.7 1272.2L1639.9 1271.2L1642.3 1276.2L1645.5 1274.3L1648.6 1274.3L1650.4 1276.2L1652.9 1274.9L1655.8 1277.7L1658.6 1273.1L1659.8 1268.7L1663.5 1266.2L1667.9 1266.8L1672.3 1271.2L1667.9 1274.3L1666.3 1279.3L1666 1282.4L1669.8 1283.7L1672.5 1287.4L1678.5 1285.2L1682.2 1288L1684.5 1289.3L1685.4 1291.4L1697.2 1291.8L1703.4 1290.5L1713.4 1290.9L1712.8 1288.7L1714 1285.5L1717.2 1288L1718.4 1289.9L1722.1 1290.5L1725.3 1293L1728.4 1301.7L1720.9 1305.2L1717.2 1298L1715.3 1296.8L1709.7 1299.9L1703.4 1301.7L1693.5 1302.4L1686.6 1304.2L1684.1 1308L1678.5 1310.8L1675 1304.2L1671.6 1302.4L1669.8 1305.5L1667.3 1307.6L1668.3 1310.5L1666 1312.3L1667.3 1314.8L1661 1318L1652.3 1323.6L1639.9 1333.5L1619.9 1347.9L1614.9 1353.5L1612.7 1351.2L1608.1 1346.6L1606.2 1344.1L1604.9 1341L1600.6 1337.9L1598.7 1334.8L1597.5 1331L1598.1 1327.3L1600.6 1324.8L1603.7 1321.7L1606.2 1319.6L1609.9 1319.6L1613 1322.3L1617.4 1323.3L1620.5 1321.7L1621.1 1320.1L1617.4 1318.6L1615.5 1316.1L1614.9 1312.3L1615.2 1308.6L1616.8 1305.5L1614.3 1301.7L1614.3 1298.6L1617.4 1296.1L1619.9 1295.5L1623 1291.1L1624.9 1287.4L1628 1286.8L1631.7 1279.3L1627.4 1274.3Z" fill="#fff" stroke="none"/>
<path d="M1772.2 1104.6L1773 1102.6L1776.1 1101.9L1780.1 1099.5L1782.8 1098.3L1782.8 1095.8L1793.4 1093.6L1793.8 1099.5L1796.5 1097.2L1799.6 1098.3L1803.5 1098.7L1807.9 1100.3L1808.6 1102.3L1812.2 1097.9L1815.3 1094L1817.3 1092.9L1817.3 1119.1L1815.3 1115.2L1814.5 1114L1813.3 1116.4L1811.8 1115.6L1810.6 1114L1809.4 1117.1L1805.1 1120.7L1801.2 1126.9L1798.1 1132.4L1794.9 1137.1L1791.8 1140.2L1790.2 1138.7L1789.8 1141L1788.3 1143.8L1785.9 1143.8L1784.8 1141L1783.6 1135.5L1782.4 1130.8L1780.1 1127.7L1777.7 1124.2L1774.6 1123L1772.2 1122.2L1769.9 1119.1L1768.3 1116.7L1766.7 1113.6L1763.2 1112.8L1762.8 1110.1L1764.4 1107.3L1765.2 1104.2L1768.3 1102.6Z" fill="#fff" stroke="none"/>
<path d="M1357.5 467.1L1361 468.6L1364.7 471.7L1367.8 472.6L1370.3 472.6L1369.7 476.7L1367.8 480.4L1366 482.7L1362.2 483.2L1359.1 482.3L1359.1 477.3L1359.7 473.6L1357.9 470.4Z" fill="#EBEBEB" stroke="none"/>
<path d="M1110.4 1237.9L1113.6 1236L1114.2 1232.9L1116.7 1231.6L1117.3 1228.8L1122.3 1226L1126.7 1227.9L1132.3 1227.3L1136 1226L1137.3 1222.9L1137.3 1220.4L1139.8 1220.8L1142 1219.4L1146 1222L1150.3 1221.7L1152.2 1222.9L1155.3 1222.9L1157.2 1222.3L1157.8 1225.4L1160.3 1227L1162.4 1229.2L1165.9 1230L1167.2 1232.9L1169.7 1233.5L1172.2 1232.6L1174 1234.1L1174.4 1239.1L1175.9 1239.8L1177.8 1238.3L1183.4 1238.3L1184.4 1241L1187.1 1241.6L1190.2 1240.1L1191.1 1241L1189 1244.1L1184.6 1247.2L1180.9 1249.1L1177.2 1251.6L1175.7 1255.3L1174.9 1259.1L1175.9 1261.6L1172.2 1263.7L1168.4 1262.4L1165.3 1263.7L1163.4 1265.7L1160.9 1264.7L1157.2 1264.7L1156 1260.9L1154.1 1258.2L1151 1257.2L1147.9 1257.6L1146 1256L1142.9 1253.5L1139.8 1252.8L1136 1251.3L1132.3 1249.1L1129.2 1247.5L1127.3 1247.9L1125.4 1246L1121 1244.1L1117.3 1242.2L1113.6 1240Z" fill="#EBEBEB" stroke="none"/>
<path d="M1767.1 1072.9L1768.4 1069.5L1772.1 1068.5L1770.9 1071.6Z" fill="#EBEBEB" stroke="none"/>
<path d="M1721 1249.9L1727.3 1248.4L1729.8 1245.9L1734.8 1246.1L1729.8 1251.5L1726.7 1255.8Z" fill="#EBEBEB" stroke="none"/>
<path d="M1651.7 1313L1654.8 1312.3L1659.2 1314.2L1657.3 1315.7L1653.6 1315.5Z" fill="#EBEBEB" stroke="none"/>
<path d="M1412.8 1392.5L1415.9 1391.5L1419.7 1391.2L1419.1 1392.5L1415.3 1393.6Z" fill="#EBEBEB" stroke="none"/>
<path d="M1439 1391.8L1443.4 1390.8L1444.6 1389.6L1447.1 1390L1455.8 1388.6L1448.4 1390.8L1442.1 1392.5Z" fill="#EBEBEB" stroke="none"/>
<path d="M1490.1 1382.1L1497 1384.9L1505.7 1387.7L1516.3 1389L1513.2 1390L1505.1 1389L1495.7 1385.6Z" fill="#EBEBEB" stroke="none"/>
<path d="M1921.5 1152.1L1923 1152.3L1922 1159.8L1918.3 1170.4L1912.4 1181L1911.8 1180.4L1917.1 1169.8L1920.5 1159.8Z" fill="#EBEBEB" stroke="none"/>
<path d="M656.8 218.7L655.2 220.6L657.4 222.7L658.9 224.4L656.8 226.5L657.4 229.3L656.8 231.8L659.3 231.2L661.4 233.1L659.7 235L657.4 234.3L655.5 233.1L653.7 235.6L652.7 237.2L649.9 238.4L651.2 239.3L654.9 239.3L658 240.6L660.5 243.1L660.5 244.9L658.7 247.7L656.8 251.2L655.9 254.3L656.2 258L657.4 260.1L659.9 260.9L661.4 262.4L660.5 264.9L658 267.4L660.5 268.9L662.4 267.4L663.6 264.9L665.1 265.5L665.5 269.9L664.6 274.9L663 279.2L659.9 281.3L656.8 282.3L654.9 284.8L655.5 287.6L657.2 287.9L658.7 285.4L660.5 283.3L662.6 283L664.6 284.8L665.5 288.6L664.9 292.3L662.4 295.8L658.7 298.8L655.5 302L655.5 304.8L654.7 307.9L656.4 308.8L658 306L660.1 304.5L663 304.2L665.5 305.8L665.9 309.8L665.1 314.8L664.3 319.7L664.9 322.5L667.4 320L669.9 318.7L672.4 320L672.6 322.5L670.5 324.1L667.6 324.5L668 326.6L669.9 329.1L668 330.7L665.1 329.1L665.9 331L669.3 331.2L672.1 331.6L673.9 334.7L673.4 337.8L671.4 340.3L673.9 340.9L676.4 341.9L675.5 343.4L672.4 343.2L669.3 344.1L671.4 345.3L673.9 344.7L676.4 344.9L677.6 346.9L676.7 349.7L674.9 351.9L671.7 352.8L669.9 354.7L670.5 356.9L673 357.4L676.1 356.5L677.6 359L679.6 361.1L677.6 362.4L675.5 359.6L673.9 360.3L674.9 362.8L673.4 363.4L669.9 359.6L671.7 361.5L674.9 364L675.5 366.9L678.6 368.1L681.7 370.2L684.8 370.9L687.3 373.1L685.8 374L683 374.9L684.8 374L688 375.2L686.7 377.7L689.2 379.6L691.3 382.7L689.2 385.8L690.1 388.1L693.6 388.6L696.3 392.1L695.8 393.9L692.9 393.3L691.1 392.3L689.2 394.6L691.3 396.4L694.8 395.8L696.7 396.8L693.6 397.7L690.4 399.3L689.8 402L692.3 404.3L696.1 404.5L694.8 401.8L697.3 400.2L701 401.8L703.3 403.3L702.3 406M689.3 386.2L692.4 388.7L696.1 392.5L689.9 395L694.9 396.2L689.9 400.6L692.4 404.3L696.7 404.3L694.9 400.6L698.6 400L701.7 402.4L705.5 402.4L699.9 407.4L704.2 404.9L704.8 411.2L708 411.2L711.1 407.4L708 413.7L706.7 416.2L714.8 416.4L716.7 418.7L716.1 421.8L721 421.1L722.9 417.4L723.5 421.8L726 423L721.7 424.3L726 425.5L729.8 426.8L727.3 429.9L730.4 428L727.9 431.1L723.5 433L727.3 433.6L731.6 431.4L733.5 433.6L731.6 438L736 434.9L733.5 438.6L739.1 440.5L739.8 447.3L743.5 448L741.6 444.2L744.7 446.1L747.2 445.5L744.1 448.6M732.2 218.7L733.5 221.2L731.6 225.6L729.7 229L730.7 231.8L729.7 233.5L732.2 234.3L732.8 237.4L734.5 239.3L734.1 241.4L736.6 243.4L737.8 246.8L740.3 246.2L742.2 245.2L743.4 247.7L745.3 248.7L744.7 251.4L741.9 252.2L742.4 256.1L744.7 258L746.6 259.6L746.9 262.4L750.7 262.6L748.7 264.3L749.9 266.4L748.4 268L745.7 268.9L747.2 271.1L749.1 273.4L747.8 274.9L749.1 276.3L747.4 278.6L744.7 279.6L747.4 280.5L747.2 283L745.3 284.8L743.7 286.7L744.9 289.2L746.2 291.3L744.9 294.2L751.2 294.2L750.9 371.5L752.2 372.7L752.4 398.3L803.9 398.3L804.3 384.8L826.4 384.8M803.5 218.7L803.5 307.5L816.8 307.5L817 319.7L819.3 320.7L818.3 322.9L819.5 325L818.5 327.2L819.8 328.7L819.5 332.2L818.5 335L819.3 337.8L818.9 341.6L817.6 344.7L818.9 346.5L820.1 352.2L821.4 356.5L820.7 359.6L821.4 364.6L822.6 369L823.9 373.4L825.7 377.1L827 380.2L825.7 382.1L826.4 384.8M769.5 398.3L764.5 402.5L758.3 400.7L755 405.7L758.3 409.5L762.5 412L761.5 417L758.3 424.4L755.8 428.2L758.3 434.4L761.5 436.9L760.7 445.6L755.8 449.4M708.4 449.4L810.6 449.4L810.6 454.4L809.4 460.6L814.4 465.6L815.6 471.8L816.9 475.6L1038.3 476.3M819.4 346.6L894.2 346.4M894.2 342.1L898.7 339.7L899.7 329.7L897.9 319.7L901.6 313.5L907.4 307.7L907.9 294.8L958.5 294.8L962.7 296.8L969 296L974 298.5L979 306.7L986.4 306.7L986.4 320.9L1012.6 321.4L1012.6 398.8L1038.8 424.4L1038.8 549.1L1035.8 554.1L1035.1 560.3L1032.6 565.3L1031.3 571.6L1026.3 576.6L1025.1 580.3M894.2 342.1L894.7 385L960.2 385.3L960.2 372.6L1012.6 372.6M934.1 220L934.1 277.3L931.6 279.8L934.1 282.3L934.1 294.8M920.3 385.3L921.1 449.4L917.9 454.4L914.6 457.4L915.4 464.3L912.9 469.3L909.6 471.8L909.6 475.6M1101.1 221.9L1098.7 228.7L1096.2 234.9L1098.7 244.9L1097.4 253.6L1096.2 259.9L1099.9 266.1L1103.6 270.3L1101.1 274.8L1104.9 283.5L1103.6 292.3L1101.6 296L1104.9 299.8L1101.1 306L1096.2 314.2L1093.7 316.7L1083.7 319.7L1082.4 323.4L1061.2 338.4L1061.2 344.6L1055 345.9L1048.8 347.1L1042.5 345.9L1012.6 347.1M1101.1 307.2L1107.4 308.5L1106.1 314.7L1113.6 311L1119.9 309.7L1124.8 309.7L1126.1 316L1129.8 320.9L1134.8 323.4L1138.6 321.7L1141.5 325.9L1138.1 328.4L1138.1 334.7L1132.3 344.6L1137.3 348.4L1138.6 355.9L1142.3 361.6L1141 369.6L1136.1 373.3L1133.6 379.6L1132.3 385.8L1127.3 392L1123.1 397L1118.6 403.2L1115.6 412L1115.6 419.5L1113.6 425.7L1112.4 433.2L1108.6 437.4M1038.8 437.4L1075 437.4L1080 443.1L1091.2 443.1L1091.2 437.4L1119.9 437.4L1119.9 441.9L1117.4 445.6L1121.1 449.4L1117.4 454.4L1123.1 456.9L1116.6 461.8L1124.8 460.6L1122.3 465.6L1124.1 470.6L1131.1 468.1L1136.1 470.6L1143.5 470.6L1144.8 474.3L1144.8 478.1L1149.8 481.8L1151 489.3L1144.8 495.5L1136.1 499.3L1141 505.5L1143.5 514.2L1143.5 521.7L1142.3 527.9L1142.3 540.4L1038.8 540.4M1142.3 527.9L1146 527.9L1153.5 531.7L1160 536.7M1116.1 540.4L1116.1 582M599.9 461.3L622.3 461.3L634.8 453.1L642.3 446.9L647.3 440.6L647.3 434.4L658.5 426.9L659.8 421.9L664.7 418.2L669.7 419L674.7 419.5L677.2 423.2L682.2 425.7L687.2 424.4L694.7 425.7L700.9 430.7L705.9 435.7L708.4 440.6L707.6 445.6L708.9 449.4L712.6 454.4L713.4 458.1L722.1 462.3L729.6 463.1L732.1 469.3L732.1 476.8L734.6 481.3L727.1 488.8L734.6 495.5L735.8 500.5L742.5 502.2L742.5 511.2L747 513L749.5 519.2L753.3 521.7L758.3 523.7L762 525.4L769 530.4L770.7 537.9L774.5 539.2L773.2 545.4L776.5 549.1L781.9 551.6L786.9 550.4L793.2 552.1L799.4 545.4L803.1 546.6L803.9 527.2L833.1 527.2L828.1 521.7L824.3 516.7L824.3 510.5L829.3 503L826.3 496.8L822.3 493L825.6 488.8L821.8 483L818.1 476.8L816.9 475.6M770.7 537.9L764.5 542.9L759.5 541.6L758.3 538.7L753.3 544.1L752 549.1L752 582M641 565.3L752 565.3M880.4 476.3L881.7 481.8L885.4 488L888.7 493L887.2 496.8L890.4 503L892.9 510.5L892.9 518L889.2 521.7L893.7 524.2L894.2 532.9L896.7 535.4L892.9 539.2L891.2 547.9L888.7 554.1L889.7 560.3L884.2 564.1L877.2 562.1L878 567.8L879.2 572.8L876.2 582M960.2 580.3L1025.1 580.3M1261 221.9L1259.8 226.2L1258.5 228.7L1261 231.2L1256 234.9L1253.5 239.9L1249.8 242.9L1251 246.1L1248.5 249.9L1245.3 253.6L1246 258.6L1242.3 261.1L1238.6 260.3L1234.3 259.9L1232.3 262.8L1227.3 266.8L1225.3 273.6L1226.1 276.1L1222.3 279.8L1221.1 283.5L1217.9 287.8L1221.1 291L1221.1 297.3L1216.9 302.2L1215.4 306L1211.9 307.7L1209.4 312.2L1213.6 314.7L1213.6 318.5L1209.9 322.2L1208.6 327.2L1206.1 330.9L1204.4 335.9L1201.1 338.4L1197.9 337.7L1195.4 339.7L1191.9 337.7L1188.7 340.1L1184.4 348.4L1184.9 352.1L1182.9 354.6L1180 353.4L1177 355.9L1173.7 354.1L1170 352.1L1167.5 350.1L1164.5 352.6L1163.7 355.1L1160 357.6M1209.9 322.2L1220.3 322.2L1220.3 347.1L1258.5 347.1M1305.9 222.9L1305.1 226.2L1302.6 227.9L1304.1 231.2L1301.6 231.9L1302.6 236.2L1300.9 238.7L1296.7 237.9L1293.4 242.4L1294.7 245.4L1292.2 249.9L1292.7 256.1L1294.2 258.6L1290.9 263.6L1288.4 261.1L1285.2 265.3L1284.7 269.8L1283.4 274.8L1285.2 276.8L1284.7 282.3L1284.2 296L1284.7 297.8L1280.9 301L1277.2 307.2L1276 311L1276.7 315.2L1271 314.2L1269.7 318.5L1271 324.7L1269.7 329.7L1271 333.4L1269.2 336.7L1271.7 338.4L1269.7 340.9L1264.2 342.1L1261 345.1L1258.5 347.1L1262.7 353.4L1259.8 357.1L1259.8 359.6L1338.3 360.3L1340 357.6L1344.5 354.6L1344.5 352.6L1354 352.1M1259.8 359.6L1256 360.3L1252.8 362.1L1252.3 365.8L1249.3 372.1L1248.5 378.3L1251 385.8L1250.3 389L1252.3 390.8L1248.5 390.8L1247.8 397L1250.3 399.5L1249.3 402.5L1251.8 407L1257.3 410.7L1257.8 413.2L1253.5 415.7L1250.3 415L1248.5 412L1244.8 417L1246 419.5L1251 419L1251.8 425.7L1244.8 426.4L1243.5 431.9L1238.6 429.9L1237.3 434.4L1238.6 438.2L1238.6 444.4L1236.1 445.6L1232.8 442.4L1230.3 445.6L1234.8 449.4L1239.8 449.4L1242.3 446.9L1240.3 453.1L1236.1 454.4L1232.3 458.1L1246 459.4L1289.7 459.4L1294.7 454.9L1302.1 451.4L1307.1 453.9L1311.6 457.4L1315.9 450.6L1324.6 446.9L1332.1 446.9L1337.1 445.6L1340.8 449.4L1339.6 455.6M1250.3 399.5L1209.9 399.5L1207.4 402.5L1202.9 405L1199.9 404.5L1199.4 409L1194.9 410L1193.7 414.5L1191.2 419L1187.9 419L1184.9 420.7L1182.4 419.5L1178 420.7L1178.7 425.7L1177.5 430.7L1175.5 436.9L1176.2 443.1L1175 448.1L1171.2 450.6L1168.7 453.9L1164.5 454.9L1162.5 459.4L1161.2 464.3L1160 465.6M1246 459.4L1246.8 474.3L1243.5 476.8L1243.5 484.3L1244.8 488L1242.3 489.8L1246.8 491.8L1247.8 496.8L1246 499.3L1244.3 505.5L1242.3 513L1246 516.7L1245.3 521.7L1241 524.2L1241.8 527.9L1237.8 531.7L1241.8 534.2L1242.3 540.4L1239.3 543.6L1233.6 545.4L1227.3 550.4L1225.3 554.1L1220.3 554.1L1220.3 528.7L1207.4 528.7L1207.4 532.9L1204.9 535.4L1201.1 541.6L1197.4 542.1L1194.9 545.4L1194.9 547.9L1189.9 551.1L1187.9 553.6L1183.7 555.4L1178.7 553.6L1173.7 557.9L1173 554.1L1168.7 552.9L1169.5 547.9L1167 544.1L1163.7 545.4L1161.2 540.4L1160 536.7M1225.3 554.1L1224.8 559.1L1227.3 561.6L1227.3 571.6L1224.3 577.8L1225.3 582M752 582L752 603.9L778.2 604.4L778.7 656.1L803.9 656.3L804.4 707.4M869.2 712.9L866.2 709.2L856.8 708.7L855.5 707.4L765 707.4L752 733.4L729.1 733.4L729.1 739.1L725.8 743.6L723.3 744.1L725.8 747.8L724.6 754.1L726.6 756.6M876.2 582L875.5 584.5L872.2 585L871.2 592L873 599.5L870.5 605.7L960.2 605.7L960.7 582M874.7 606.4L873 613.9L878 615.7L882.2 614.9L883.7 618.9L889.2 620.7L887.2 628.1L887.9 631.4L895.4 633.1L897.9 633.1L903.6 637.4L914.1 638.9L917.1 641.9L919.1 644.3L926.1 649.3L924.6 653.1L932.8 659.3L936.1 660.6L935.3 662.3L924.6 671.8L924.6 674.8L920.3 674.8L920.3 676.8L916.6 679.8L911.6 680.5L911.6 684.7L907.9 684.7L907.1 686.7L902.9 687.2L902.9 691.7L897.2 691.7L896.7 696.2L892.9 696.2L892.2 700.5L886.2 700.5L885.4 706.7L878 706.7L877.2 712.9L869.2 712.9L869.2 715.4L873.7 716.2L874.2 717.9L881.7 717.9L882.2 719.7L890.4 719.7L891.2 721.7L894.7 721.7L894.7 730.4L898.7 730.4L899.2 734.6L903.6 734.6L903.6 741.1L907.4 741.1L907.9 811.4L909.1 812.7L909.1 851.8M935.3 662.3L937.8 666.8L941 669.3L944 668L941 670.5L941 674.3L942.8 675.5L938.6 676.8L938.6 681.8L941.5 683.7L945.3 683L942 686.7L946 691.7L941.5 695.5L945.3 698L947.8 696.7L950.3 700.5L956.5 698.7L957.8 699.7L1043.8 679.8L1067.5 674.8M723.3 853.3L728.3 850.8L734.6 853.8L738.3 855.8L743.3 857.1L748.3 854.3L752.5 852.6L754.5 850.1L829.3 850.1L830.6 851.3L856.8 850.8L909.1 851.8L909.1 847.6L935.3 847.6L935.3 845.6L966.5 845.6M869.2 851.3L870 866.3L869.2 934.1L830.6 934.4L830.6 964M966.5 845.6L966 938.6L970.2 944.1L967.7 948.6L966 953.6L960.2 957.3L962 961.1L960.2 964M966.5 846.3L975.2 846.3L978.5 844.3L983.9 845.8L986.4 846.8L992.7 844.3L995.9 840.1L996.4 833.9L995.9 830.1L1001.4 828.4L1006.4 825.1L1011.9 822.6L1014.4 816.9L1020.1 815.2L1023.8 817.7L1027.6 819.4L1031.3 821.4L1030.1 823.9L1035.1 823.9L1033.8 826.4L1046.3 825.6L1063.7 825.6L1065.7 823.4L1063.2 817.7L1058.3 777L1060.7 773.5L1058.3 770.3L1058.8 720.4L1061.7 717.2L1066.2 717.9L1070 716.7L1072.5 719.2L1073.7 723.6L1077.5 726.1L1083.7 724.6L1088.7 722.9L1093.7 720.4L1094.9 717.2L1098.7 715.4L1099.9 718.7L1104.9 716.2L1109.9 713.7L1112.4 715.4L1113.6 717.9L1116.1 718.7M1046.3 825.6L1046.3 834.4L1057.5 847.6L1057.5 860.1L1160 860.6M1064.2 860.6L1064.2 877.5L1066.7 880.8L1071.2 883.2L1074.2 885L1074.2 911.2L1071.2 914.9L1067.5 917.4L1066.2 927.4L1064.2 928.6L1064.2 943.1L1051.3 943.1L1051.3 951.6L1011.4 952.1L1003.9 953.6L1000.9 956.1L1000.1 964M1115.6 582L1116.1 718.7L1117.4 721.7L1115.6 724.1L1118.6 727.1L1113.1 731.1L1117.4 734.1L1119.9 735.4L1117.4 738.6L1121.1 741.6L1117.4 744.1L1119.9 746.6L1121.1 748.6L1127.3 746.6L1128.6 742.8L1131.1 744.1L1131.6 749.1L1134.8 747.1L1138.1 746.1L1134.8 745.3L1133.6 739.1L1131.6 734.6L1134.8 729.1L1141 727.1L1148.5 729.6L1153.5 734.1L1156 737.9L1160 736.1M1025.1 582L1027.6 585L1030.1 588.2L1031.8 592L1028.3 594.5L1027.6 599.5L1024.3 602L1023.8 606.9L1028.8 608.9L1027.6 614.4L1025.1 619.4L1025.8 625.6L1027.6 629.4L1023.8 631.4L1020.8 631.9L1026.3 635.6L1033.8 639.9L1040 641.4L1037.6 645.6L1042.5 648.1L1040.8 653.1L1045 655.6L1048.8 658.1L1047.5 662.3L1046.3 666.8L1050 669.3L1055 666.8L1056.8 669.8L1055 673L1060 674.8L1063.7 671.3L1067.5 674.8L1070 676.8L1073.2 675.5L1076.7 676.8L1075.7 680.5L1079.2 683L1076.7 686.7L1079.2 693L1081.2 696.7L1084.9 699.2L1088.2 702.9L1091.2 704.2L1096.2 706.7L1098.7 711.7L1098.7 715.4M1160 666.8L1154.8 669.3L1154.8 673L1152.3 678L1154 684.2L1154.8 690.5L1160 696.2M1160 703.4L1154.8 706.7L1152.3 711.7L1151.5 720.4L1153.5 726.6L1160 729.1M1160 666.8L1162.5 670.5L1164.5 678L1167 684.7L1172 684.7L1176.2 686.7L1183.7 686.7L1187.9 684.2L1188.7 680.5L1184.9 677.3L1172.5 676.3L1168 673.8L1168.7 669.8L1173.7 665.5L1175.5 661.3L1171.2 655.6L1163.7 649.8L1162 643.1L1163 635.6L1167 628.9L1175 623.9L1178 625.6L1179.5 631.9L1183.7 633.9L1188.7 629.4L1192.4 626.4L1191.9 621.9L1190.4 615.7L1193.7 608.2L1194.9 600L1197.4 595.7L1201.1 597L1204.9 600L1211.1 599.5L1216.9 594.5L1219.4 590.7L1223.6 592.5L1226.1 597L1231.8 601.5L1235.3 598.2L1233.6 593.2L1229.8 589L1225.3 582M1233.6 592.5L1262.2 593.2L1264.7 592L1269.7 592.5L1271 594L1275.2 594.5M1160 696.7L1165 698.7L1172.5 698.7L1174.5 701.2L1170 704.7L1166.2 705.4L1160 702.9M1160 728.6L1163 729.6L1162.5 734.1L1160.5 736.6L1163.7 741.6L1167 745.3L1171.2 748.6L1177.5 748.6L1182.9 752.8L1184.4 754.6L1187.9 755.3L1191.2 753.6L1197.4 756.6L1199.9 760.3L1198.7 762.8L1197.9 767L1193.7 767.8L1190.4 772.8L1189.4 780.3L1192.4 781.5L1192.9 785.2L1189.9 789L1191.9 792.7L1188.7 801.5L1186.2 804.4L1181.2 810.2L1176.2 812.7L1174.5 817.7L1168 821.9L1167.5 827.6L1168.7 836.4L1168.7 853.8L1167 856.3L1163 856.3L1162 858.8L1160 859.3M1187.9 803.4L1193.7 803.4L1197.4 802L1203.6 801.5L1207.4 803.9L1208.6 807.7L1206.1 811.4L1204.4 816.4M1181.2 810.2L1186.2 811.9L1189.9 813.9L1193.7 809.4L1197.4 809.4L1202.4 812.7L1204.4 816.4L1203.6 822.6L1209.9 815.9M1203.6 822.6L1204.4 827.6L1207.9 836.4L1204.9 842.6L1203.6 851.3L1203.6 857.6L1206.1 861.3L1212.4 863.3L1219.9 860.8L1225.3 861.3L1228.6 864.3L1230.6 861.3L1230.3 853.8L1227.8 848.3L1222.3 846.3L1216.1 845.8L1215.4 840.1L1227.3 839.4L1233.6 841.4L1238.6 846.3L1241 852.6L1239.8 860.1L1236.8 871.3L1234.3 877.5L1229.8 880.8L1223.6 882.5L1220.3 886.7L1222.3 890.7L1227.8 895L1233.6 895L1241 892.5L1248.5 892.5L1256 894.2L1263.5 891.2L1269.7 887.5L1275.2 886.7L1279.7 893.7L1282.2 901.2L1284.2 911.2L1286.7 916.7L1293.4 918.2M1326.6 815.9L1325.8 821.9L1322.1 825.1L1323.3 831.4L1324.6 833.9L1322.1 838.9L1319.1 840.1L1318.4 846.3L1315.9 847.6L1314.6 853.8L1315.9 856.3L1313.4 861.3L1313.4 866.3L1311.6 871.3L1312.1 873.8L1309.6 875L1311.6 878.8L1308.4 878.8L1307.1 882.5L1303.4 887.5L1301.6 886.7L1298.4 891.2L1297.7 895.7L1296.7 900L1293.4 902.4L1290.2 904.9L1293.4 909.9L1293.4 918.2L1290.9 926.1L1284.7 932.4L1279.2 937.4L1279.2 942.3L1271 943.1L1268.5 950.6L1266.7 951.6L1266.7 959.1L1249.3 959.8L1249.3 964M1160 859.3L1165 861.3L1169.5 865L1167 871.3L1172.5 875L1177 878.8L1178.7 886.2L1180.4 891.2L1179.5 893.7L1183.7 900L1185.4 904.9L1184.9 908.7L1186.2 913.7L1182.9 916.2L1183.7 923.6L1180.4 927.4L1181.2 933.6L1179.5 943.6L1182.9 952.3L1186.2 957.3L1183.7 961.1L1180 964M1416.4 815.9L1411.9 818.9L1411.4 825.1L1406.9 831.4L1408.1 840.1L1410.6 846.3L1408.1 852.6L1410.6 856.3L1412.4 860.1L1409.9 865L1413.9 870L1411.9 875L1412.4 880L1411.4 885L1409.9 890L1411.9 895L1410.6 899.2M1394.4 918.7L1481.2 918.7M1481.2 815.9L1481.7 964M1537.1 815.9L1537.1 843.3L1541 843.8L1542 846.8L1545.3 847.6L1546 853.8L1548.5 858.8L1551 862.5L1552 868.8L1551 872.5L1554.5 876.3L1555.3 881.3L1558.5 885L1559 890L1561 893.7L1561 900.7L1626.8 914.4L1663.2 914.2M1561 900.7L1561.5 906.2L1561 913.7L1562.7 918.7L1562 927.4L1563.5 936.1L1562.7 941.1L1563.5 964M677.2 992.2L740.8 991.9L740.8 966.5L767 966.5L767 992.2L830.6 991.9L830.6 964M830.6 986.4L848 985.9L848 982L921.6 982L921.6 967L957.8 967M992.7 969L995.2 966L1000.1 964M959 969L1056.3 969.5L1056.3 982L1073.2 982L1073.7 1007.6L1077.5 1007.6L1077.5 1016.4L1081.7 1016.4L1081.7 1026.8L1077.5 1027.6L1077.5 1031.3L1073.2 1031.8L1073.2 1040.1L1065 1040.1L1064.2 1044.3L1061.2 1045.8L1057.5 1046.3L1055 1050L1055.8 1056.8L1053.8 1061.3L1050 1065L1047.5 1067.5M957.8 967L959 971.5L961 977L964 980.2L966.5 984.4L967 987.7L964.5 990.2L965.2 995.9L961 996.4L957.8 1000.2L959.5 1003.9L958.5 1008.9L961 1011.9L959 1016.9L957.8 1018.4L960.2 1021.4L959 1028.8L959.5 1036.3L959 1043.3L962 1045.8L963.5 1049.3L966.5 1050L970.2 1051.8L967.7 1053.8L968.5 1057.5L964.5 1058.8L961.5 1060L963.5 1063.8L961 1067.5L958.5 1071.2L959.5 1076.2L961 1081.2L960.2 1084.2M830.6 991.9L831.3 998.9L856.3 998.9L856.8 1033.8L864.7 1033.8L865.5 1065L891.2 1065L892.9 1069.2L888.7 1073.2L887.2 1077.5L890.4 1080L891.2 1083.7L892.9 1086.7L865.5 1087.4L864.7 1099.9M681.7 1096.2L831.8 1095.7L831.8 1099.9L929.1 1099.4L932.8 1099.9L961.5 1099.9L962 1163.5L961.5 1233.8M931.6 1099.9L934.1 1096.7L937.8 1096.2L941 1093.2L944 1093.7L947.8 1089.9L950.3 1091.2L952 1088.2L956 1089.9L958.5 1085.7L960.2 1084.2L962.7 1084.9L965.2 1082.5L969 1083.2L972.7 1080L976 1077.5L979 1079.2L983.4 1080L985.9 1084.9L988.9 1087.4L993.4 1089.9L995.9 1092.4L1001.4 1093.7L1006.4 1095.7L1010.1 1096.7L1016.4 1093.7L1020.1 1093.2L1025.1 1089.9L1030.1 1086.2L1033.8 1081.2L1036.3 1075L1041.3 1072.5L1044.3 1067.5L1047.5 1067.5L1051.3 1069.2L1056.3 1068.7L1060 1070.7L1066.2 1068.2L1086.2 1077L1095.7 1073.2L1095.7 1078.7L1098.7 1081.2L1099.9 1087.4L1102.4 1089.9L1126.1 1099.9M1082.4 1022.6L1094.9 1013.4L1096.7 1005.1L1101.1 1002.7L1105.6 998.4L1108.1 1002.7L1111.1 1004.4L1114.1 1001.9L1117.4 1003.4L1121.1 1001.9L1124.8 1003.9L1129.8 1004.4L1130.6 1008.9L1128.6 1011.4L1129.8 1013.9L1126.6 1016.9L1128.6 1020.1L1129.8 1022.6L1131.1 1029.3L1124.1 1034.3L1126.1 1035.8L1126.6 1039.3L1128.6 1040.8L1132.3 1040.8L1132.3 1044.3L1129.1 1045.8L1128.6 1048.3L1124.1 1049.3L1123.1 1056.8L1124.8 1058.8L1128.6 1058.3L1130.6 1056.3L1134.8 1057.5L1138.1 1055.8L1140.5 1060.8L1142.3 1065.7L1134.8 1075.7L1129.8 1093.7L1126.6 1100.7L1122.3 1112.4L1119.9 1116.1L1120.6 1126.1L1124.8 1160.5M1122.3 1001.4L1123.1 990.9L1126.1 990.2L1129.8 992.7L1133.6 994.4L1151 987.7L1156 990.2L1160 990.9M1130.6 1089.4L1141 1089.4L1144 1094.2L1149.8 1091.2L1160 1096.2M1180 964L1183.7 971.5L1186.2 976.5L1189.9 977.7L1193.7 985.9L1197.4 991.4L1199.4 994.4L1165 995.2L1160 992.7M1193.7 964L1199.9 969.5L1206.1 976.5L1209.9 982.7L1211.9 988.9L1212.9 995.9L1208.6 1001.4L1207.9 1005.1L1212.9 1007.6L1214.4 1016.4L1218.6 1023.9L1222.3 1029.3L1221.8 1035.1L1226.1 1039.3L1234.8 1040.1L1244.8 1040.8L1251 1043.8L1247.3 1050L1249.3 1055L1252.8 1058.3L1253.5 1071.2L1251.8 1075.7L1254.3 1080L1269.7 1080.7L1275.2 1083.2L1277.2 1088.2L1277.7 1093.2M1223.6 964L1224.3 967L1232.3 966.5L1236.1 964M1249.3 964L1256 971.5L1264.7 982.7L1271 991.4L1272.2 995.2L1279.7 997.7L1285.9 1005.1L1290.9 1010.1L1292.9 1015.9L1334.6 1015.9M1367 1011.4L1353.3 1056.3L1352.5 1062.5L1349 1065L1348.3 1078.7L1345 1079.2L1345 1092.4M1160 1096.2L1164.5 1098.2L1170 1089.9L1175.5 1086.2L1177.5 1080L1183.7 1076.7L1187.9 1075L1193.7 1076.2L1197.4 1080L1200.4 1079.2L1203.6 1078.2L1207.4 1083.7L1210.4 1088.7L1216.1 1091.7L1217.9 1097.4L1219.9 1101.2L1242.3 1101.2L1244.8 1098.7L1247.3 1094.2L1277.7 1093.7L1279.7 1094.9L1284.2 1093.2L1289.7 1093.7L1303.4 1093.7L1305.9 1098.2L1309.6 1102.4L1312.6 1100.7L1315.1 1098.7L1315.9 1103.7L1312.1 1111.1L1305.9 1112.4L1305.9 1119.9M1315.9 1103.7L1345 1092.4L1349 1091.7L1350 1088.2L1354.5 1087.4L1358.3 1089.9L1363.2 1088.7L1369.5 1087.4L1374.5 1091.7L1380.7 1092.4L1385.7 1088.2L1389.4 1081.7L1394.4 1077.5L1462.2 1062.5M1396.4 1008.9L1406.9 1010.1L1411.9 1015.1L1415.6 1017.6L1416.9 1023.9L1420.6 1026.8L1423.1 1029.3L1426.3 1028.8L1424.8 1033.8L1428.1 1037.6L1431.8 1038.8L1434.3 1042.6L1438.1 1044.3L1440.5 1050L1443 1054.3L1446.8 1056.3L1449.3 1059.3L1453 1055L1454.3 1049.3L1458 1047.5L1460.5 1043.3L1464.2 1045L1466.7 1047.5L1470.5 1046.8L1474.2 1048.8L1476.7 1051.8L1481.7 1053.3L1486.7 1051.8L1492.9 1046.3L1497.2 1038.8L1499.7 1033.8L1502.9 1029.3M1481.7 964L1482.9 969L1485.4 971.5L1486.7 977.7L1486.2 982.7L1490.4 986.4L1493.7 990.2L1496.7 995.2L1497.2 1001.4L1501.1 1003.9L1505.4 1008.9L1502.9 1013.9L1502.9 1029.3L1516.6 1028.8L1526.6 1027.6L1531.6 1025.1L1537.1 1023.4L1545.3 1023.4L1549 1024.3L1583.9 1040.8M1563.5 964L1563.5 1003.9L1577 1019.4L1580.2 1029.3L1583.9 1040.8L1585.9 1047.5L1586.4 1055M1464.7 1046.3L1462.2 1062.5L1459.3 1083.2L1455.5 1083.7L1455.5 1088.7L1458 1094.9L1450.5 1100.7L1452.3 1106.6L1455.5 1113.6L1453 1117.4L1456.3 1120.6L1454.3 1123.6L1456.8 1126.1L1456.8 1138.6L1458 1143.1M1380.7 1092.4L1381.4 1100.7L1385.7 1101.2L1385.7 1117.4L1393.9 1117.4L1394.4 1129.8L1400.6 1130.6L1400.6 1147.3L1394.9 1147.3L1391.9 1158.5L1387.4 1168.5L1379.5 1181.5L1370.7 1194.7L1350 1222.1M1400.6 1139.1L1426.3 1138.6L1427.3 1134.8L1431.8 1136.1L1436.8 1138.6L1441.8 1139.1L1443 1141.6L1448.8 1139.8L1452.3 1142.3L1458 1143.1L1463 1142.3L1468.7 1143.1L1470.5 1145.5L1474.7 1143.1L1490.4 1143.1M1490.4 1143.1L1490.4 1121.1L1486.2 1120.6L1486.2 1111.1L1489.2 1107.4L1504.1 1101.2L1511.6 1101.2L1522.8 1086.2L1531.6 1079.2L1539.1 1073.7L1542.8 1066.7L1560.2 1062.5M1490.4 1143.1L1492.9 1149L1495.4 1151.5L1499.7 1152.3L1504.1 1158.5L1505.4 1167.2L1510.4 1172.2L1516.6 1177.2L1522.8 1178.5L1529.1 1181L1531.6 1185.9L1532.8 1192.9L1533.6 1198.4L1537.1 1202.2L1567 1202.2M1305.9 1119.9L1307.1 1123.6L1309.6 1129.8L1312.6 1134.1L1313.4 1137.3L1318.4 1139.8L1319.6 1148.5L1322.1 1154L1327.6 1158L1334.6 1159L1339.6 1160.5L1345 1164.7L1347.5 1169.7L1345.8 1176L1348.3 1183.5L1345 1189.7L1344.5 1196.4L1347.5 1201.4L1345.8 1213.4L1344.5 1216.4L1350 1219.6L1350 1222.1L1345.8 1223.4L1343.3 1224.6L1341.5 1227.1L1337.1 1227.8L1334.6 1229.6L1330.8 1232.1L1329.1 1231.3L1326.6 1227.1L1321.6 1229.6L1316.6 1233.8L1314.6 1237.1L1315.1 1242.8L1309.1 1245.3L1304.1 1247L1302.6 1250.8L1304.6 1255.8L1302.6 1264.5M1160 1183.5L1191.2 1157.3L1213.6 1127.3L1305.9 1119.9M1251.8 1126.1L1258.5 1131.6L1267.2 1139.1L1269.7 1147.3L1276.7 1159.8L1273.5 1175.5L1282.2 1180.5L1295.9 1181L1314.6 1185.4L1323.3 1189.7L1330.8 1192.9L1337.1 1193.4L1343.3 1198.9L1347.5 1201.4M1370.7 1194.7L1401.4 1195.4L1401.4 1187.2L1409.9 1186.4L1410.6 1183.5L1414.9 1181.5L1415.6 1178L1419.4 1177.2L1421.3 1179L1421.8 1185.4L1424.8 1187.2L1426.8 1189.7L1430.6 1199.7L1435.6 1205.4L1443 1208.4L1449.3 1214.6L1454.3 1220.9L1458 1227.1L1461.7 1229.6L1468 1230.3L1470.5 1233.8L1476.7 1237.1L1479.7 1240.8L1480.4 1247L1484.2 1248.3L1489.2 1255.3L1492.9 1259.5L1499.2 1265.2L1505.4 1273.2L1509.1 1282L1516.6 1289.4L1522.8 1294.4L1527.1 1299.4L1528.6 1306.9L1529.1 1314.4L1526.6 1324.3L1524.6 1333.1M1647.9 1150L1649.6 1154.6L1651.2 1160L1654.2 1163.7L1655.8 1166.2L1656.2 1168.7L1657.9 1171.6L1659.6 1172.8L1664.5 1171.2L1669.5 1169.9L1672.8 1170.8L1675.3 1173.7L1679.5 1178.7L1677.8 1181.6L1680.3 1183.2L1683.6 1183.6L1687.8 1182.8L1691.9 1182.4L1696.1 1182.8L1699.4 1184.5L1702.7 1188.2L1704 1192.4L1705.2 1195.3L1710.2 1196.5L1715.2 1200.7L1719.4 1205.2L1722.3 1206.9L1725 1207.7M1648.1 1151.1L1650.6 1157.3L1655 1163.6L1657.5 1169.8L1660 1172.9L1666.2 1171L1671.2 1169.8L1674.9 1172.3L1679.9 1179.2L1678 1181.6L1681.1 1183.5L1689.9 1182.9L1696.1 1183.5L1701.1 1186.6L1704.2 1191L1705.5 1195.4L1709.8 1197.2L1714.8 1201L1719.8 1206L1726 1207.8L1732.3 1210.7L1738.5 1211.6L1746 1214.1M1141.8 367.1L1143.1 363.2L1144.9 358.7L1148.3 359.8L1153.5 365.8L1158 364.5L1160 358M1143.5 470.6L1145.7 471.5L1149.6 468.4L1156.1 467.6L1160 465.6M1180 964L1223.6 964.2M1236 964L1249.3 964" fill="none" stroke="#fff" stroke-width="1.3" stroke-linejoin="round" stroke-linecap="round"/>
<path d="M1307 903.1L1410.3 899.1L1409.8 901.7L1407.1 904.9L1404.3 908.6L1400.7 912.7L1397 916.8L1393.4 921.4L1389.7 925.5L1386.5 929.1L1386 930.9L1382.4 932.8L1379.6 934.6L1376.5 936.9L1375.1 939.2L1375.1 941.9L1377.4 944.2L1378 947.4L1377.4 951L1376 953.8L1376.5 957.4L1377.8 961.1L1377.4 964.8L1376.5 968.4L1376 971.6L1373.7 974.3L1374.2 977.5L1376 981.2L1376.5 984.9L1376.9 987.6L1379.6 989.4L1381 991.7L1379.2 993.1L1379.6 995.4L1381.9 996.7L1384.7 996.7L1385.6 999L1387.4 1001.8L1389.7 1003.6L1392.4 1005L1395.6 1006.8L1396.6 1009.1L1393.4 1009.3L1389.7 1008.8L1386 1009.3L1382.4 1008.6L1378.7 1008.6L1375.1 1009.5L1371.4 1010.9L1368.2 1012.3L1365.9 1014.6L1364.1 1016.4L1360.5 1017L1355.9 1016.8L1351.3 1016.4L1346.8 1016.7L1342.2 1017.8L1338.5 1017.3L1336.7 1015.5L1335.3 1012.7L1334 1010.4L1330.3 1009.1L1325.7 1008.2L1321.2 1008.2L1316.6 1009.3L1313.4 1009.1L1311.6 1006.8L1311.6 1004L1312.9 1000.8L1315.7 997.6L1318.4 994L1320.7 989.9L1322.1 984.9L1322.5 979.4L1322.5 973.9L1322.3 968.4L1322.1 962.9L1321.2 958.4L1318.9 956.3L1315.7 957L1311.1 958.8L1306.1 960.6L1302 961.1L1300.2 960L1300.6 958.4L1303.8 956.5L1307.5 954.7L1309.7 952.9L1310.7 950.1L1310.2 946.9L1308.4 943.9L1305.2 941.9L1301.1 941.3L1296.5 941.3L1293.3 940.3L1291.9 937.8L1292.4 935.1L1294.2 932.8L1296 930L1297 926.4L1297.1 922.7L1297 919.1L1297.9 915.4L1298.8 911.8L1302 910.8L1304 909.5L1304.5 905.8Z" fill="#00204D" stroke="#fff" stroke-width="1.3" stroke-linejoin="round"/>
<path d="M1560 1063.1L1558.7 1068.2L1557.5 1074.9L1556.2 1083.2L1555.4 1093.2L1554.8 1103.1L1554.6 1113.1L1554.8 1119.7L1555.4 1127.2L1556.2 1133.9L1557.5 1138.8L1560 1142.6L1562.9 1145.9L1564.1 1148.8L1564.3 1151.7L1568.3 1154.6L1573.2 1157.9L1573.2 1157.9L1578.2 1161.6L1581.5 1162.5L1583.1 1165.4L1582.3 1168.7L1579 1175.7L1574.8 1184.9L1571.5 1194L1568.2 1202.2L1573.2 1202.3L1576.5 1203.2L1578.2 1205.6L1581.5 1204.8L1584 1206.9L1586 1206.9L1585.6 1209.8L1586.3 1212.3L1584.8 1215.2L1585 1218.9L1584.6 1223.1L1585.6 1225.6L1587.3 1227.2L1586.5 1229.7L1587.1 1232.6L1584.8 1234.3L1583.6 1236L1585.5 1237.6L1584.8 1239.3L1582.3 1239.9L1579.4 1240.4L1577.3 1241.8L1576.9 1243.9L1578.2 1245.5L1581.5 1246.3L1582.7 1249.7L1584 1252.6L1586.5 1256.3L1589 1259.2L1590 1262.1L1590.2 1265L1590.3 1264.6L1594 1267.9L1598.2 1269.8L1602.3 1270.4L1604.8 1269L1609 1270.8L1613.1 1270.4L1614.4 1273.3L1616 1275L1615.2 1276.6L1617.3 1278.4L1620.2 1279.5L1620.7 1282.4L1619.3 1286.6L1617.9 1290.3L1618.5 1294.9L1620.6 1295.5L1622.7 1294.5L1623.5 1292L1624.6 1290.3L1623.9 1288.2L1625.1 1287L1627.6 1286.7L1628.9 1284.1L1630.5 1281.6L1631.8 1279.5L1629.7 1277.9L1627.2 1275L1628.5 1272.9L1630.5 1271.2L1630.5 1266.6L1631.1 1266.3L1630.5 1263L1630.5 1254.7L1630.6 1249.3L1629.2 1248L1628.2 1244.7L1628.4 1240.9L1629.5 1239.3L1629.8 1236.4L1631.1 1233.5L1629.8 1231L1630.3 1228.1L1628.8 1226L1629.2 1223.9L1627.6 1223.5L1625.1 1223.1L1623.8 1218.1L1622.6 1213.1L1621.3 1207.7L1618.4 1204.8L1616.4 1201.5L1615.1 1198.2L1610.5 1192.4L1608.1 1188.6L1608.5 1184.1L1606.4 1179.1L1609.7 1174.9L1608.5 1171.6L1607.2 1168.3L1608.1 1165L1608.5 1161.6L1611.4 1159.6L1614.3 1157.5L1617.2 1155.8L1618.9 1153.3L1618.5 1151.7L1619.8 1148.8L1621.4 1145.5L1623.1 1142.2L1610.8 1127.4L1610.4 1131.8L1608.1 1134.7L1603.1 1137.3L1598.2 1139L1593.2 1138.4L1590.3 1135.9L1589.9 1132.2L1590 1127.2L1591.9 1123.1L1593.8 1119.7L1594.7 1113.1L1595.2 1104.8L1595.8 1093.2L1596.5 1083.2L1597.2 1073.2L1597.5 1062.8L1594.8 1061.8L1591.5 1060.3L1588.2 1058.4L1585.5 1055.9L1579.9 1057.4L1569.9 1059.9Z" fill="#FFEA46" stroke="#fff" stroke-width="1.3" stroke-linejoin="round"/>
<path d="M1624.7 1298L1627.2 1300.7L1630.5 1303.2L1629.7 1305.7L1626.8 1305.7L1623.1 1304.9L1621.8 1302.4L1623.5 1299Z" fill="#FFEA46" stroke="none"/>
<path d="M1617.1 1301.8L1620.2 1303.2L1618.1 1304.2L1617.1 1303.2Z" fill="#FFEA46" stroke="none"/>
<path d="M1629.9 1313L1631.8 1312.7L1632.6 1315.2L1632.4 1317.3L1631 1316.5Z" fill="#FFEA46" stroke="none"/>
<path d="M1631.4 1324L1633 1323.5L1633.7 1325.2L1632.2 1325Z" fill="#FFEA46" stroke="none"/>
<path d="M1618.9 1343.5L1622.2 1339.7L1625.1 1336.8L1626 1334.3L1628.5 1331L1630.5 1331.4L1633.9 1329.8L1637.2 1328.8L1637.9 1330.2L1635.9 1332.4L1631.4 1335.2L1626.4 1338.1L1622.2 1341Z" fill="#FFEA46" stroke="none"/>
<path d="M1641.3 1324.1L1644.7 1321.9L1648 1320.5L1647.6 1321.5L1644.7 1323.5L1641.8 1325Z" fill="#FFEA46" stroke="none"/>
<path d="M1610.6 1346.4L1612.9 1350.5L1609 1352.6L1604.1 1356.3L1603.6 1353.9L1605.2 1350.5L1608.1 1348Z" fill="#FFEA46" stroke="none"/>
<path d="M1621 1333.9L1622.1 1335.2L1620.7 1335.7Z" fill="#FFEA46" stroke="none"/>
<path d="M1598.6 1063.9L1603.1 1064.9L1609 1065.9L1615.6 1065.9L1621.4 1064.5L1626.4 1062.4L1632.2 1059.5L1638 1057.4L1643.8 1055L1650.1 1053.1L1655.5 1054.3L1661.3 1055.4L1666.3 1057L1671.2 1059.5L1674.6 1062.4L1677.1 1064.3L1682 1064.5L1686.2 1062L1690.3 1059.3L1693.7 1062.3L1697 1064.5L1701.1 1062.4L1704.5 1059.9L1708.2 1061.4L1712.8 1064.5L1716.1 1064.9L1719.3 1065.9L1716.9 1068.7L1714.4 1072L1711.9 1075.7L1709.5 1077.8L1707 1079L1705.7 1082.4L1704.9 1087.8L1702 1089.4L1697 1090.7L1694.1 1092.3L1692.4 1095.2L1693.7 1098.1L1696.2 1101.9L1695.7 1103.8L1693.7 1104.1L1691.2 1101.9L1687.9 1098.6L1684.5 1097.1L1677.9 1097.3L1672.1 1097.7L1667.9 1101.5L1663.8 1106.4L1660.9 1110.2L1659.2 1113.1L1657.1 1114.8L1655.5 1114.3L1654.6 1112.3L1653 1110.6L1649.7 1110.2L1646.7 1111.4L1643.8 1113.9L1640.5 1115.6L1637.6 1115.7L1634.7 1114.3L1631.8 1112.9L1629.7 1114.3L1627.6 1115.6L1626.8 1118.1L1624.7 1120.6L1623.1 1123.9L1621.8 1127.2L1624.7 1129.3L1628.9 1131.8L1633 1133.4L1637.2 1134.3L1641.3 1134.3L1643.8 1135.5L1645.9 1138L1648.4 1141.7L1649.8 1145.1L1649.5 1147.6L1647.6 1149.8L1645.9 1148L1643.8 1144.7L1641.8 1142.2L1638.9 1140.5L1634.7 1139.3L1630.5 1139L1628.1 1139.7L1627.6 1142.3L1625.6 1141.5L1623.1 1142L1610.6 1127.2L1610.2 1131.4L1608.1 1134.3L1603.1 1136.8L1598.2 1138.4L1593.6 1137.8L1590.7 1135.5L1590.3 1131.4L1590.3 1127.2L1592.3 1123.1L1594 1119.7L1594.8 1114.8L1595.2 1106.4L1595.8 1098.1L1596.5 1089.8L1597.2 1081.5L1597.7 1073.2L1598.2 1067.4Z" fill="#7C7B78" stroke="#fff" stroke-width="1.3" stroke-linejoin="round"/>
<rect x="1817" y="600" width="400" height="547.5" fill="#fff"/>
<rect x="1835.9" y="735.7" width="56.3" height="57.2" fill="#FFEA46"/>
<rect x="1835.9" y="792.4" width="56.3" height="57.3" fill="#D3C164"/>
<rect x="1835.9" y="849.2" width="56.3" height="57.3" fill="#A69D75"/>
<rect x="1835.9" y="906.0" width="56.3" height="57.3" fill="#7C7B78"/>
<rect x="1835.9" y="962.8" width="56.3" height="57.3" fill="#575C6D"/>
<rect x="1835.9" y="1019.6" width="56.3" height="57.3" fill="#233E6C"/>
<rect x="1835.9" y="1076.4" width="56.3" height="56.4" fill="#00204D"/>
<text x="1911.7" y="803.7" font-size="31" font-family="'Liberation Sans', Arial, Helvetica, sans-serif" fill="#000">18%</text>
<text x="1911.7" y="860.5" font-size="31" font-family="'Liberation Sans', Arial, Helvetica, sans-serif" fill="#000">17%</text>
<text x="1911.7" y="917.3" font-size="31" font-family="'Liberation Sans', Arial, Helvetica, sans-serif" fill="#000">16%</text>
<text x="1911.7" y="974.1" font-size="31" font-family="'Liberation Sans', Arial, Helvetica, sans-serif" fill="#000">15%</text>
<text x="1911.7" y="1030.9" font-size="31" font-family="'Liberation Sans', Arial, Helvetica, sans-serif" fill="#000">14%</text>
<text x="1911.7" y="1087.7" font-size="31" font-family="'Liberation Sans', Arial, Helvetica, sans-serif" fill="#000">13%</text>
<text x="1835.5" y="675" font-size="34.65" font-family="'Liberation Sans', Arial, Helvetica, sans-serif" fill="#000">% of LA Greeks</text>
<text x="1835.5" y="712.9" font-size="34.65" font-family="'Liberation Sans', Arial, Helvetica, sans-serif" fill="#000">(reliable only)</text>
<text x="1261.5" y="75.1" font-size="69.5" text-anchor="middle" font-family="'Liberation Sans', Arial, Helvetica, sans-serif" fill="#000">Share of LA Greeks by Parish (Percent of State Total)</text>
<text x="1262" y="130.5" font-size="38" text-anchor="middle" font-family="'Liberation Sans', Arial, Helvetica, sans-serif" fill="#000">Total Greeks in Louisiana: 5,350</text>
<text x="533.5" y="1527.8" font-size="28.45" font-family="'Liberation Sans', Arial, Helvetica, sans-serif" fill="#000">Note: Light gray parishes are not mapped due to uncertainty. Source: ACS 2024 5-year.</text>
</svg></body></html>
